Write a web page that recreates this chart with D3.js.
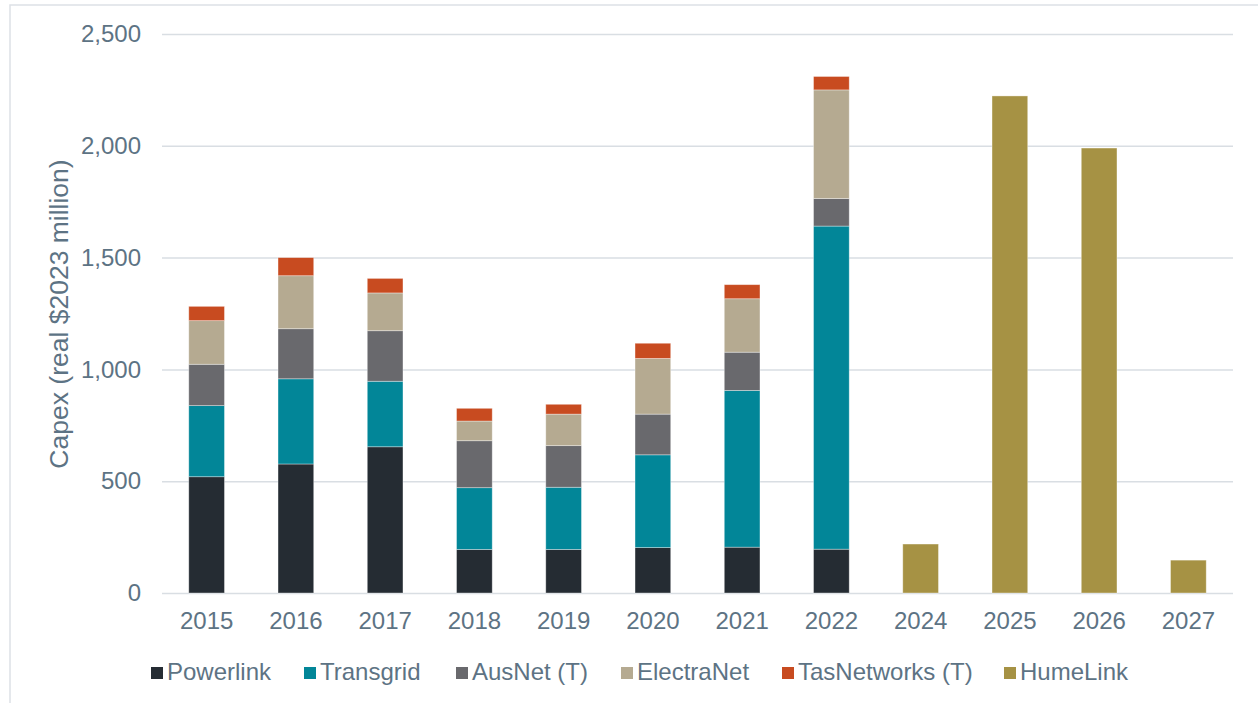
<!DOCTYPE html>
<html>
<head>
<meta charset="utf-8">
<script src="https://cdn.jsdelivr.net/npm/d3@7"></script>
<style>
  html, body { margin: 0; padding: 0; background: #fff; }
  svg { display: block; font-family: "Liberation Sans", Arial, sans-serif; }
</style>
</head>
<body>
<svg id="chart" width="1258" height="703"></svg>
<script>
const years = ["2015","2016","2017","2018","2019","2020","2021","2022","2024","2025","2026","2027"];
const seriesNames = ["Powerlink","Transgrid","AusNet (T)","ElectraNet","TasNetworks (T)","HumeLink"];
const seriesColors = ["#252c33","#028698","#69696d","#b5aa91","#c84b20","#a69244"];
const powerlink   = [520, 577, 654, 195, 195, 203, 205, 196, 0, 0, 0, 0];
const transgrid   = [318, 381, 293, 276, 278, 415, 701, 1445, 0, 0, 0, 0];
const ausnet      = [185, 224, 226, 210, 186, 182, 171, 123, 0, 0, 0, 0];
const electranet  = [195, 237, 169, 88, 141, 249, 239, 486, 0, 0, 0, 0];
const tasnetworks = [64, 81, 65, 57, 44, 68, 63, 60, 0, 0, 0, 0];
const humelink    = [0, 0, 0, 0, 0, 0, 0, 0, 219, 2223, 1990, 147];
const yTicks = [0, 500, 1000, 1500, 2000, 2500];
const yTitle = "Capex (real $2023 million)";

const seriesValues = [powerlink, transgrid, ausnet, electranet, tasnetworks, humelink];
const rows = years.map((y, i) => {
  const r = { year: y };
  seriesNames.forEach((n, k) => r[n] = seriesValues[k][i]);
  return r;
});

const svg = d3.select("#chart");
const textColor = "#5d7384";
const fontSize = "24px";

// frame
svg.append("rect").attr("x", 10).attr("y", 5).attr("width", 1260).attr("height", 720)
  .attr("fill", "none").attr("stroke", "#dde1e6").attr("stroke-width", 1.5);

const x = d3.scaleBand().domain(years).range([162, 1233]).paddingInner(0.6).paddingOuter(0.3);
const y = d3.scaleLinear().domain([0, 2500]).range([593, 34]);

// gridlines
const gy = svg.append("g").attr("transform", "translate(162,0)")
  .call(d3.axisLeft(y).tickValues(yTicks).tickSize(-(1233 - 162)).tickFormat(""));
gy.select(".domain").remove();
gy.selectAll(".tick line").attr("stroke", "#d9dee3").attr("stroke-width", 1.5);

// bars
const stacked = d3.stack().keys(seriesNames)(rows);
svg.append("g").selectAll("g").data(stacked).join("g")
  .attr("fill", (d, i) => seriesColors[i])
  .selectAll("rect").data(d => d.filter(p => p[1] - p[0] > 0)).join("rect")
  .attr("x", d => x(d.data.year))
  .attr("width", x.bandwidth())
  .attr("y", d => y(d[1]))
  .attr("height", d => y(d[0]) - y(d[1]))
  .attr("stroke", "#ffffff").attr("stroke-opacity", 0.45).attr("stroke-width", 0.8);

// y axis labels
const ya = svg.append("g").attr("transform", "translate(141,0)")
  .call(d3.axisLeft(y).tickValues(yTicks).tickSize(0).tickPadding(0).tickFormat(d3.format(",")));
ya.select(".domain").remove();
ya.selectAll("text").attr("fill", textColor).attr("font-size", fontSize)
  .attr("font-family", "Liberation Sans, Arial, sans-serif");

// x axis labels
const xa = svg.append("g").attr("transform", "translate(0,593)")
  .call(d3.axisBottom(x).tickSize(0).tickPadding(19));
xa.select(".domain").remove();
xa.selectAll("text").attr("fill", textColor).attr("font-size", fontSize)
  .attr("font-family", "Liberation Sans, Arial, sans-serif");

// y title
svg.append("text")
  .attr("transform", "translate(68,314) rotate(-90)")
  .attr("text-anchor", "middle")
  .attr("fill", textColor).attr("font-size", "26.5px")
  .text(yTitle);

// legend
const legendX = [151, 304, 456, 621, 782, 1004];
const lg = svg.append("g");
seriesNames.forEach((n, i) => {
  lg.append("rect").attr("x", legendX[i]).attr("y", 667).attr("width", 12).attr("height", 12)
    .attr("fill", seriesColors[i]);
  lg.append("text").attr("x", legendX[i] + 16).attr("y", 680)
    .attr("fill", textColor).attr("font-size", fontSize).text(n);
});
</script>
</body>
</html>
